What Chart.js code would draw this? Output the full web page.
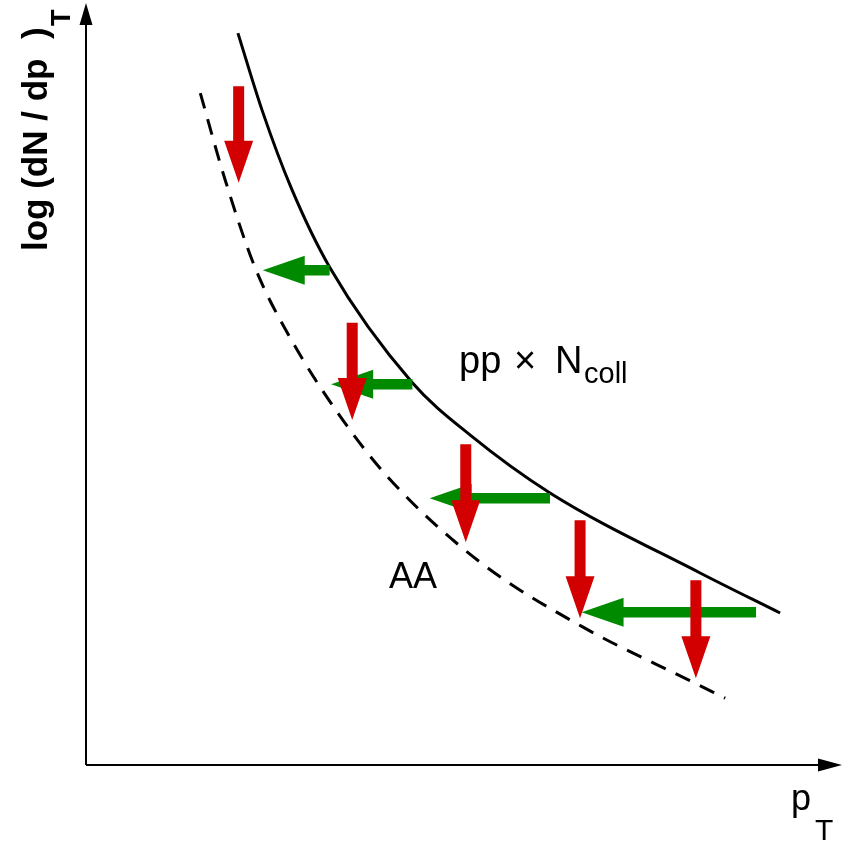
<!DOCTYPE html>
<html>
<head>
<meta charset="utf-8">
<script src="https://cdn.jsdelivr.net/npm/chart.js@4.4.1/dist/chart.umd.min.js"></script>
<style>
  body { margin: 0; background: #fff; }
  #wrap { width: 850px; height: 842px; position: relative; }
</style>
</head>
<body>
<div id="wrap"><canvas id="chart"></canvas></div>
<script>
// Curves in plot units (pT, log dN/dpT), both axes 0..10
const ppX = [2.02, 2.34, 2.73, 3.24, 4.34, 5.11, 6.17, 8.16, 9.23];
const ppY = [9.63, 8.62, 7.59, 6.55, 5.03, 4.34, 3.58, 2.53, 2.00];
const aaX = [1.52, 1.85, 2.25, 2.71, 3.35, 4.04, 5.24, 6.58, 8.03, 8.50];
const aaY = [8.84, 7.70, 6.54, 5.63, 4.63, 3.76, 2.67, 1.83, 1.11, 0.88];

// Red (suppression) arrows: x, start y, tip y
const redX = [2.03, 3.54, 5.05, 6.57, 8.11];
const redFrom = [8.93, 5.82, 4.22, 3.22, 2.43];
const redTo = [7.66, 4.54, 2.93, 1.93, 1.14];

// Green (energy loss) arrows: y, start x, tip x
const greenY = [6.51, 5.01, 3.51, 2.01];
const greenFrom = [3.24, 4.34, 6.17, 8.91];
const greenTo = [2.35, 3.26, 4.57, 6.59];

const red = '#d20000';
const green = '#008a00';
const font = '"Liberation Sans", Arial, sans-serif';

const toPts = (xs, ys) => xs.map((x, i) => ({ x, y: ys[i] }));

function arrowPath(ctx, x0, y0, x1, y1, shaft, headW, headL) {
  const dx = x1 - x0, dy = y1 - y0;
  const len = Math.hypot(dx, dy);
  const ux = dx / len, uy = dy / len;
  const nx = -uy, ny = ux;
  const bx = x1 - ux * headL, by = y1 - uy * headL;
  ctx.beginPath();
  ctx.moveTo(x0 + nx * shaft / 2, y0 + ny * shaft / 2);
  ctx.lineTo(bx + nx * shaft / 2, by + ny * shaft / 2);
  ctx.lineTo(bx + nx * headW / 2, by + ny * headW / 2);
  ctx.lineTo(x1, y1);
  ctx.lineTo(bx - nx * headW / 2, by - ny * headW / 2);
  ctx.lineTo(bx - nx * shaft / 2, by - ny * shaft / 2);
  ctx.lineTo(x0 - nx * shaft / 2, y0 - ny * shaft / 2);
  ctx.closePath();
  ctx.fill();
}

const decorations = {
  id: 'decorations',
  beforeDatasetsDraw(chart) {
    const { ctx, chartArea: a } = chart;
    ctx.save();
    ctx.fillStyle = '#000';
    ctx.strokeStyle = '#000';
    ctx.lineWidth = 2;
    // axes
    ctx.beginPath();
    ctx.moveTo(a.left, a.bottom);
    ctx.lineTo(a.left, a.top + 15);
    ctx.moveTo(a.left, a.bottom);
    ctx.lineTo(a.right - 15, a.bottom);
    ctx.stroke();
    arrowPath(ctx, a.left, a.top + 20, a.left, a.top - 2, 2, 13, 22);
    arrowPath(ctx, a.right - 20, a.bottom, a.right + 4, a.bottom, 2, 13, 24);
    ctx.restore();
  },
  afterDatasetsDraw(chart) {
    const { ctx } = chart;
    const xs = chart.scales.x, ys = chart.scales.y;
    ctx.save();
    ctx.fillStyle = green;
    greenY.forEach((y, i) => {
      const py = ys.getPixelForValue(y);
      arrowPath(ctx, xs.getPixelForValue(greenFrom[i]), py, xs.getPixelForValue(greenTo[i]), py, 10.5, 29, 42);
    });
    ctx.fillStyle = red;
    redX.forEach((x, i) => {
      const px = xs.getPixelForValue(x);
      arrowPath(ctx, px, ys.getPixelForValue(redFrom[i]), px, ys.getPixelForValue(redTo[i]), 11, 29, 42);
    });

    // labels
    ctx.fillStyle = '#000';
    ctx.textBaseline = 'alphabetic';
    ctx.textAlign = 'left';
    ctx.font = '38px ' + font;
    ctx.fillText('pp', 459, 373);
    ctx.fillText('\u00d7', 514, 373);
    ctx.fillText('N', 555, 373);
    ctx.font = '29px ' + font;
    ctx.fillText('coll', 584, 383);

    ctx.font = '36px ' + font;
    ctx.fillText('AA', 389, 588);

    ctx.font = '36px ' + font;
    ctx.fillText('p', 791, 810);
    ctx.font = '30px ' + font;
    ctx.fillText('T', 815, 840);

    // y title, rotated
    ctx.save();
    ctx.translate(47, 251);
    ctx.rotate(-Math.PI / 2);
    ctx.font = 'bold 35px ' + font;
    ctx.fillText('log (dN / dp  )', 0, 0);
    ctx.font = 'bold 27px ' + font;
    ctx.fillText('T', 225, 23);
    ctx.restore();
    ctx.restore();
  }
};

new Chart(document.getElementById('chart'), {
  type: 'scatter',
  data: {
    datasets: [
      {
        label: 'pp x Ncoll',
        data: toPts(ppX, ppY),
        showLine: true,
        borderColor: '#000',
        borderWidth: 3,
        pointRadius: 0,
        cubicInterpolationMode: 'monotone'
      },
      {
        label: 'AA',
        data: toPts(aaX, aaY),
        showLine: true,
        borderColor: '#000',
        borderWidth: 3,
        borderDash: [16, 11],
        pointRadius: 0,
        cubicInterpolationMode: 'monotone'
      }
    ]
  },
  options: {
    responsive: true,
    maintainAspectRatio: false,
    animation: false,
    layout: { padding: { left: 86, right: 12, top: 5, bottom: 77 } },
    plugins: { legend: { display: false }, tooltip: { enabled: false } },
    scales: {
      x: { type: 'linear', min: 0, max: 10, display: false },
      y: { type: 'linear', min: 0, max: 10, display: false }
    }
  },
  plugins: [decorations]
});
</script>
</body>
</html>
